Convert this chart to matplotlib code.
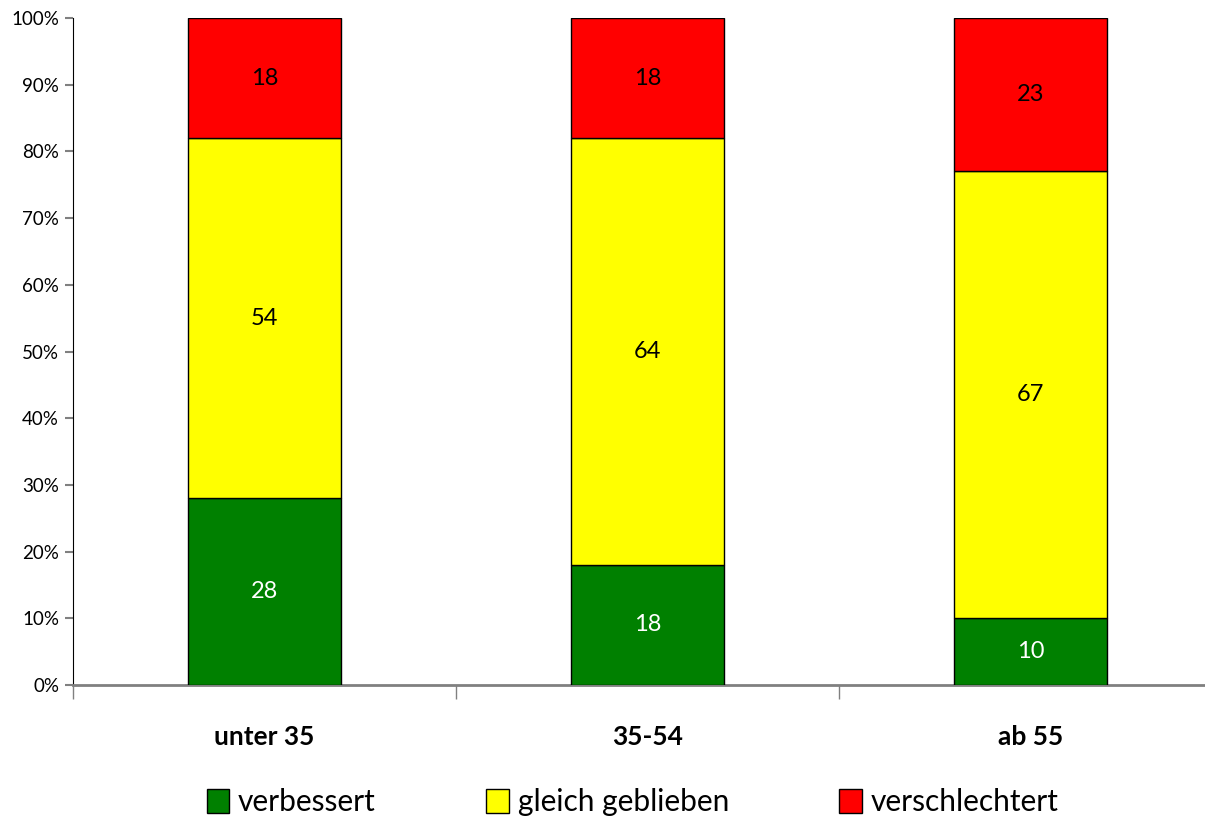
import matplotlib.pyplot as plt
from matplotlib.ticker import PercentFormatter

plt.rcParams['font.family'] = ['Lato', 'DejaVu Sans']

# Daten
gruppen = ['unter 35', '35-54', 'ab 55']
verbessert = [28, 18, 10]
gleich = [54, 64, 67]
verschlechtert = [18, 18, 23]

farben = ['#008000', '#FFFF00', '#FF0000']
namen = ['verbessert', 'gleich geblieben', 'verschlechtert']

fig = plt.figure(figsize=(12.05, 8.22), dpi=100)
ax = fig.add_axes([73 / 1205, 1 - 685 / 822, 1149 / 1205, 667 / 822])

x = range(len(gruppen))
unten = [0, 0, 0]
for werte, farbe, name in zip([verbessert, gleich, verschlechtert], farben, namen):
    bars = ax.bar(x, werte, bottom=unten, width=0.4, color=farbe,
                  edgecolor='black', linewidth=1, label=name, zorder=3)
    txtfarbe = 'white' if farbe == '#008000' else 'black'
    for b, v in zip(bars, werte):
        ax.text(b.get_x() + b.get_width() / 2, b.get_y() + b.get_height() / 2,
                str(v), ha='center', va='center', fontsize=17, color=txtfarbe, zorder=4)
    unten = [u + w for u, w in zip(unten, werte)]

ax.set_xlim(-0.5, 2.5)
ax.set_ylim(0, 100)
ax.yaxis.set_major_locator(plt.MultipleLocator(10))
ax.yaxis.set_major_formatter(PercentFormatter(decimals=0))
ax.tick_params(axis='y', labelsize=13.5, length=6, color='#808080', width=1.5, pad=4)

# Kategorie-Trennstriche unten
ax.set_xticks([-0.5, 0.5, 1.5])
ax.set_xticklabels([])
ax.set_xticks(list(x), minor=True)
ax.set_xticklabels(gruppen, minor=True, fontsize=19, fontweight='bold')
ax.tick_params(axis='x', which='major', length=10, color='#808080', width=1)
ax.tick_params(axis='x', which='minor', length=0, pad=29)

for s in ['top', 'right']:
    ax.spines[s].set_visible(False)
ax.spines['left'].set_color('black')
ax.spines['bottom'].set_color('#808080')
ax.spines['bottom'].set_linewidth(2)

fig.legend(loc='center', bbox_to_anchor=(0.525, 0.024), ncol=3, frameon=False,
           fontsize=21.5, handlelength=0.75, handleheight=0.9, handletextpad=0.3,
           columnspacing=3.7)

fig.savefig('out.png', dpi=100)
